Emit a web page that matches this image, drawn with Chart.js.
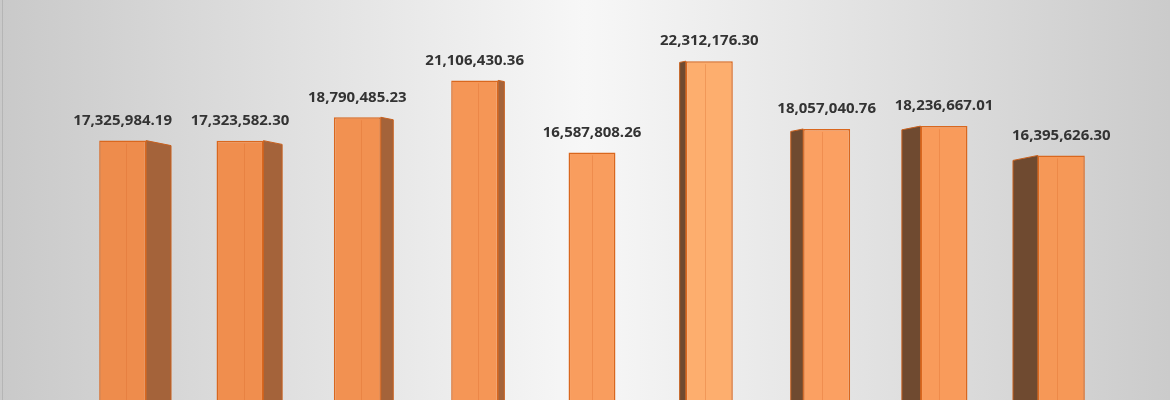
<!DOCTYPE html>
<html lang="en">
<head>
<meta charset="UTF-8">
<title>Totals</title>
<script src="https://cdn.jsdelivr.net/npm/chart.js"></script>
<style>
  html, body { margin: 0; padding: 0; background: #ffffff; }
  #wrap { width: 1170px; height: 400px; position: relative; }
</style>
</head>
<body>
<div id="wrap"><canvas id="totalsChart" width="1170" height="400"></canvas></div>
<script>
const categories = ['1', '2', '3', '4', '5', '6', '7', '8', '9'];
const totals = [17325984.19, 17323582.30, 18790485.23, 21106430.36, 16587808.26,
                22312176.30, 18057040.76, 18236667.01, 16395626.30];

// front colours get lighter toward the middle of the row
const frontColors = ['#ee8c4c', '#f08e4e', '#f29151', '#f59656', '#f99d5e',
                     '#fdae6e', '#fba062', '#f99b5b', '#f69857'];

const fmt = v => v.toLocaleString('en-US', { minimumFractionDigits: 2, maximumFractionDigits: 2 });

// grey wash behind the plot
const backdrop = {
  id: 'backdrop',
  beforeDraw(chart) {
    const { ctx, width, height } = chart;
    const g = ctx.createLinearGradient(0, 0, width, 0);
    g.addColorStop(0, '#c9c9c9');
    g.addColorStop(0.5, '#f7f7f7');
    g.addColorStop(1, '#cbcbcb');
    ctx.save();
    ctx.fillStyle = g;
    ctx.fillRect(0, 0, width, height);
    ctx.fillStyle = '#b5b5b5';
    ctx.fillRect(2, 0, 1, height);
    ctx.restore();
  }
};

// side faces, drawn behind the front of each bar
const sides = {
  id: 'sides',
  beforeDatasetsDraw(chart) {
    const { ctx, chartArea } = chart;
    const mid = (chartArea.left + chartArea.right) / 2;
    const meta = chart.getDatasetMeta(0);
    ctx.save();
    meta.data.forEach(bar => {
      const half = bar.width / 2;
      const dx = (mid - bar.x) * 0.053;
      if (Math.abs(dx) < 1) return;
      const edge = dx > 0 ? bar.x + half : bar.x - half;
      const dy = Math.abs(dx) * 0.2;
      ctx.beginPath();
      ctx.moveTo(edge, bar.y);
      ctx.lineTo(edge + dx, bar.y + dy);
      ctx.lineTo(edge + dx, bar.base);
      ctx.lineTo(edge, bar.base);
      ctx.closePath();
      ctx.fillStyle = dx > 0 ? '#a4633a' : '#6f4a30';
      ctx.fill();
      ctx.strokeStyle = '#c8611f';
      ctx.lineWidth = 1;
      ctx.stroke();
    });
    ctx.restore();
  },
  afterDatasetsDraw(chart) {
    const { ctx, chartArea } = chart;
    const mid = (chartArea.left + chartArea.right) / 2;
    const meta = chart.getDatasetMeta(0);
    ctx.save();
    meta.data.forEach((bar, i) => {
      const half = bar.width / 2;
      // faint crease down the front face
      const f = bar.x < mid - 5 ? 0.58 : (bar.x > mid + 5 ? 0.40 : 0.5);
      const cx = Math.round(bar.x - half + bar.width * f) + 0.5;
      ctx.strokeStyle = 'rgba(214,104,40,0.3)';
      ctx.lineWidth = 1;
      ctx.beginPath();
      ctx.moveTo(cx, bar.y + 3);
      ctx.lineTo(cx, bar.base);
      ctx.stroke();
      // value label
      ctx.fillStyle = '#333333';
      ctx.font = 'bold 15px "Open Sans", sans-serif';
      ctx.textAlign = 'center';
      ctx.textBaseline = 'middle';
      ctx.fillText(fmt(totals[i]), bar.x, bar.y - 20);
    });
    ctx.restore();
  }
};

const ctx = document.getElementById('totalsChart').getContext('2d');
new Chart(ctx, {
  type: 'bar',
  data: {
    labels: categories,
    datasets: [{
      data: totals,
      backgroundColor: frontColors,
      borderColor: '#d9671e',
      borderWidth: 1.5,
      barPercentage: 0.4,
      categoryPercentage: 1
    }]
  },
  options: {
    responsive: false,
    animation: false,
    devicePixelRatio: 1,
    layout: { padding: { left: 64, right: 50, top: 0, bottom: 0 } },
    plugins: { legend: { display: false }, tooltip: { enabled: false } },
    scales: {
      x: { display: false },
      y: { display: false, min: 1050000, max: 26150000 }
    }
  },
  plugins: [backdrop, sides]
});
</script>
</body>
</html>
